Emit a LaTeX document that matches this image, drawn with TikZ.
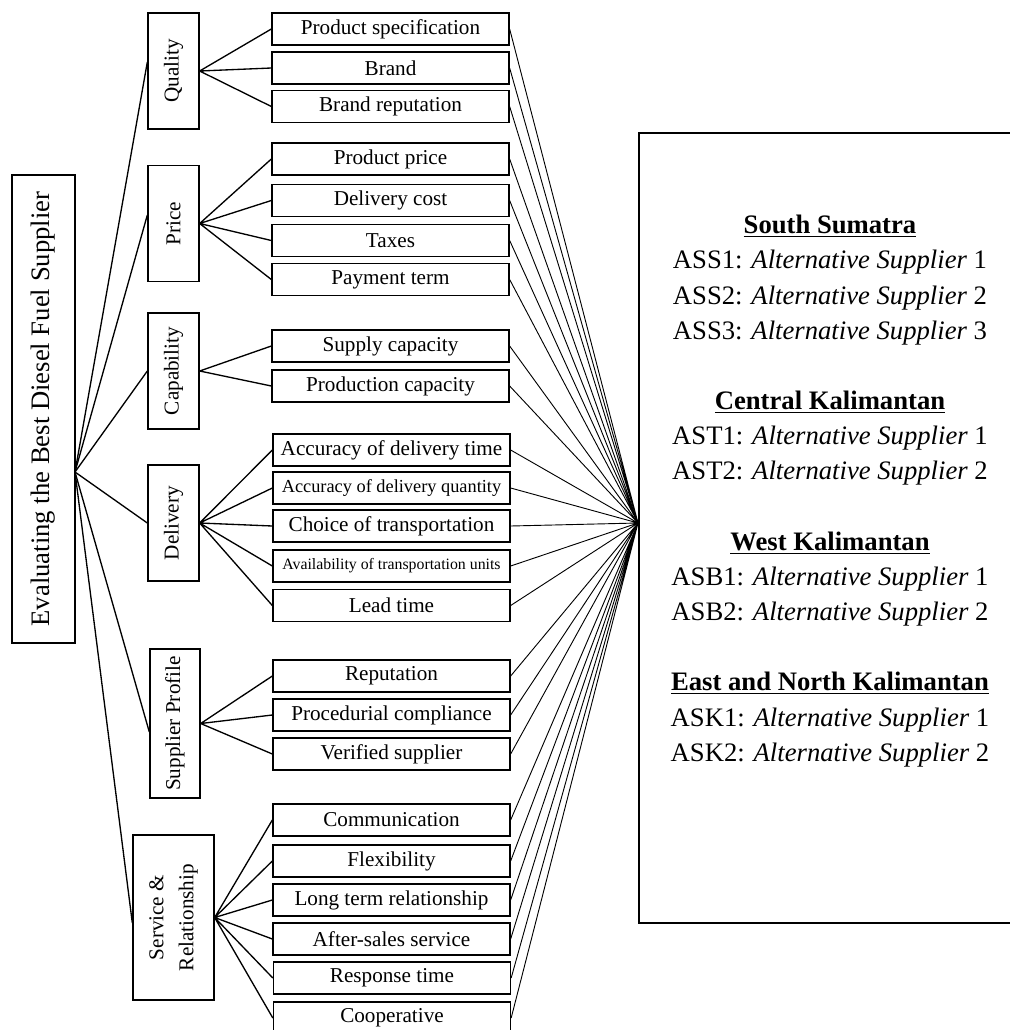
\documentclass[tikz,border=0pt]{standalone}
\usepackage{fontspec}
\setmainfont{Liberation Serif}

\begin{document}
\begin{tikzpicture}[x=0.6pt, y=-0.6pt,
  every node/.style={draw, line width=0.8pt, inner sep=0pt, align=center, fill=white},
  goal/.style={rotate=90, minimum width=280.8pt, minimum height=37.8pt, font=\fontsize{16}{19}\selectfont},
  crit/.style={rotate=90, minimum width=69.6pt, minimum height=30.6pt, font=\fontsize{12.7}{18}\selectfont},
  leaf/.style={minimum width=142.2pt, minimum height=19.2pt, font=\fontsize{12.7}{15}\selectfont},
  link/.style={line width=0.8pt},
  thin/.style={line width=0.55pt}]
\useasboundingbox (0,0) rectangle (1010,1030);
\clip (0,0) rectangle (1010,1030);

% right box with the alternatives
\node[minimum width=228.6pt, minimum height=474pt] (alt) at (829.5,528) {};
\node[draw=none, fill=none, font=\fontsize{16}{21.1}\selectfont] (names) at (830,491) {%
\underline{\textbf{South Sumatra}}\\
ASS1: \textit{Alternative Supplier} 1\\
ASS2: \textit{Alternative Supplier} 2\\
ASS3: \textit{Alternative Supplier} 3\\[21.1pt]
\underline{\textbf{Central Kalimantan}}\\
AST1: \textit{Alternative Supplier} 1\\
AST2: \textit{Alternative Supplier} 2\\[21.1pt]
\underline{\textbf{West Kalimantan}}\\
ASB1: \textit{Alternative Supplier} 1\\
ASB2: \textit{Alternative Supplier} 2\\[21.1pt]
\underline{\textbf{East and North Kalimantan}}\\
ASK1: \textit{Alternative Supplier} 1\\
ASK2: \textit{Alternative Supplier} 2};
\coordinate (hub) at (638,523);

% goal and criteria
\node[goal] (goal) at (43.5,409) {Evaluating the Best Diesel Fuel Supplier};
\coordinate (root) at (75,472);
\node[crit] (quality) at (173.5,71) {Quality};
\node[crit] (price) at (173.5,223.5) {Price};
\node[crit] (capab) at (173.5,371) {Capability};
\node[crit] (deliv) at (173.5,523) {Delivery};
\node[crit, minimum width=89.4pt, minimum height=30pt] (profile) at (175,723.5) {Supplier Profile};
\node[crit, minimum width=99pt, minimum height=48.6pt] (service) at (173.5,917.5) {Service \&\\Relationship};

% sub-criteria
\node[leaf] (q1) at (390.5,29) {Product specification};
\node[leaf] (q2) at (390.5,68) {Brand};
\node[leaf] (q3) at (390.5,106.5) {Brand reputation};
\node[leaf] (p1) at (390.5,159) {Product price};
\node[leaf] (p2) at (390.5,200.5) {Delivery cost};
\node[leaf] (p3) at (390.5,240.5) {Taxes};
\node[leaf] (p4) at (390.5,279.5) {Payment term};
\node[leaf] (c1) at (390.5,346) {Supply capacity};
\node[leaf] (c2) at (390.5,386) {Production capacity};
\node[leaf] (d1) at (391.5,450) {Accuracy of delivery time};
\node[leaf, font=\fontsize{11}{13}\selectfont] (d2) at (391.5,488) {Accuracy of delivery quantity};
\node[leaf] (d3) at (391.5,526) {Choice of transportation};
\node[leaf, font=\fontsize{9.5}{11}\selectfont] (d4) at (391.5,566) {Availability of transportation units};
\node[leaf] (d5) at (391.5,605.5) {Lead time};
\node[leaf] (s1) at (391.5,676) {Reputation};
\node[leaf] (s2) at (391.5,715) {Procedurial compliance};
\node[leaf] (s3) at (391.5,754) {Verified supplier};
\node[leaf] (r1) at (391.5,820) {Communication};
\node[leaf] (r2) at (391.5,861) {Flexibility};
\node[leaf] (r3) at (391.5,900) {Long term relationship};
\node[leaf] (r4) at (391.5,939) {After-sales service};
\node[leaf] (r5) at (392,978) {Response time};
\node[leaf] (r6) at (392,1018) {Cooperative};

% goal to criteria
\draw[link] (root) -- ([yshift=5.4pt]quality.north);
\draw[link] (root) -- ([yshift=5.1pt]price.north);
\draw[link] (root) -- (capab.north);
\draw[link] (root) -- (deliv.north);
\draw[link] (root) -- ([yshift=-5.1pt]profile.north);
\draw[link] (root) -- ([yshift=-3.3pt]service.north);

% criteria to sub-criteria
\draw[link] (quality.south) -- (q1.west) (quality.south) -- (q2.west) (quality.south) -- (q3.west);
\draw[link] (price.south) -- (p1.west) (price.south) -- (p2.west) (price.south) -- (p3.west) (price.south) -- (p4.west);
\draw[link] (capab.south) -- (c1.west) (capab.south) -- (c2.west);
\draw[link] (deliv.south) -- (d1.west) (deliv.south) -- (d2.west) (deliv.south) -- (d3.west)
  (deliv.south) -- (d4.west) (deliv.south) -- (d5.west);
\draw[link] (profile.south) -- (s1.west) (profile.south) -- (s2.west) (profile.south) -- (s3.west);
\draw[link] (service.south) -- (r1.west) (service.south) -- (r2.west) (service.south) -- (r3.west)
  (service.south) -- (r4.west) (service.south) -- (r5.west) (service.south) -- (r6.west);

% sub-criteria to alternatives
\draw[thin] (q1.east) -- (hub) (q2.east) -- (hub) (q3.east) -- (hub);
\draw[thin] (p1.east) -- (hub) (p2.east) -- (hub) (p3.east) -- (hub) (p4.east) -- (hub);
\draw[thin] (c1.east) -- (hub) (c2.east) -- (hub);
\draw[thin] (d1.east) -- (hub) (d2.east) -- (hub) (d3.east) -- (hub) (d4.east) -- (hub) (d5.east) -- (hub);
\draw[thin] (s1.east) -- (hub) (s2.east) -- (hub) (s3.east) -- (hub);
\draw[thin] (r1.east) -- (hub) (r2.east) -- (hub) (r3.east) -- (hub) (r4.east) -- (hub)
  (r5.east) -- (hub) (r6.east) -- (hub);
\end{tikzpicture}
\end{document}
